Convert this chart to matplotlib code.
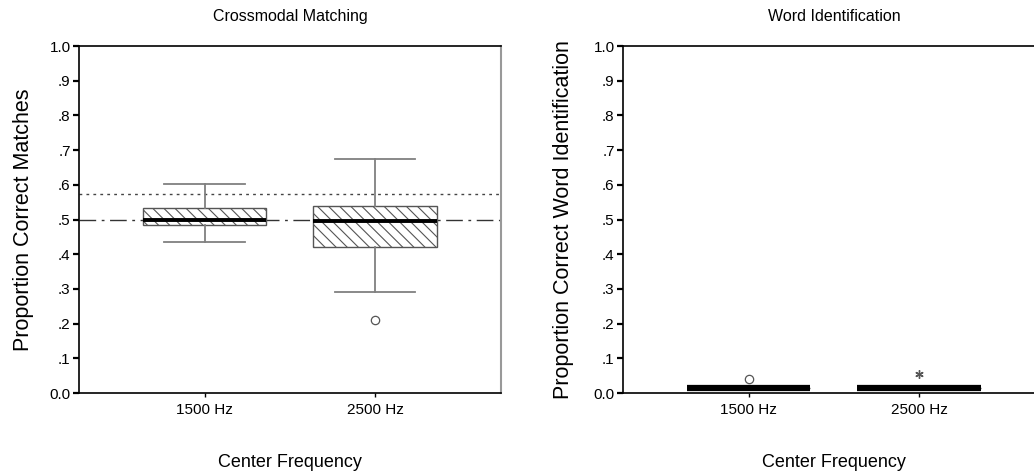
import matplotlib.pyplot as plt
import matplotlib as mpl

mpl.rcParams["font.family"] = ["Liberation Sans", "DejaVu Sans"]
mpl.rcParams["hatch.linewidth"] = 0.8

CATEGORIES = ["1500 Hz", "2500 Hz"]
YTICKS = [0.0, 0.1, 0.2, 0.3, 0.4, 0.5, 0.6, 0.7, 0.8, 0.9, 1.0]
YTICK_LABELS = ["0.0", ".1", ".2", ".3", ".4", ".5", ".6", ".7", ".8", ".9", "1.0"]

# crossmodal matching: five-number summaries per centre frequency
match_whislo = [0.435, 0.290]
match_q1     = [0.483, 0.421]
match_med    = [0.500, 0.495]
match_q3     = [0.533, 0.540]
match_whishi = [0.601, 0.675]
match_outliers = [[], [0.209]]
match_outlier_marks = ["o", "o"]
chance_level = 0.50
criterion_level = 0.574

# word identification: everything collapsed near floor
word_whislo = [0.015, 0.015]
word_q1     = [0.015, 0.015]
word_med    = [0.015, 0.015]
word_q3     = [0.015, 0.015]
word_whishi = [0.015, 0.015]
word_outliers = [[0.040], [0.054]]
word_outlier_marks = ["o", "*"]


def stats_for(lo, q1, med, q3, hi):
    return [dict(whislo=a, q1=b, med=c, q3=d, whishi=e, label=lab)
            for a, b, c, d, e, lab in zip(lo, q1, med, q3, hi, CATEGORIES)]


def style_axes(ax, title, ylabel, ypad):
    ax.set_ylim(0, 1.0)
    ax.set_xlim(0.265, 2.735)
    ax.set_yticks(YTICKS)
    ax.set_yticklabels(YTICK_LABELS)
    ax.set_xticks([1, 2])
    ax.set_xticklabels(CATEGORIES)
    ax.tick_params(axis="y", direction="out", length=4, width=1.6, labelsize=11, pad=2)
    ax.tick_params(axis="x", direction="out", length=3, width=1, labelsize=11, pad=4)
    for s in ["left", "top", "bottom"]:
        ax.spines[s].set_color("black")
        ax.spines[s].set_linewidth(1.2)
    ax.spines["right"].set_color("#999999")
    ax.spines["right"].set_linewidth(1.5)
    ax.set_title(title, fontsize=11.5, pad=18)
    ax.set_xlabel("Center Frequency", fontsize=13, labelpad=27)
    ax.set_ylabel(ylabel, fontsize=15.5, labelpad=ypad)


def draw_boxes(ax, stats, med_lw):
    ax.bxp(stats, positions=[1, 2], widths=0.725, capwidths=0.47,
           showfliers=False, patch_artist=True, manage_ticks=False,
           boxprops=dict(facecolor="white", edgecolor="#555555",
                         linewidth=1, hatch="\\\\\\"),
           whiskerprops=dict(color="#808080", linewidth=1.3),
           capprops=dict(color="#808080", linewidth=1.3),
           medianprops=dict(color="black", linewidth=med_lw,
                            solid_capstyle="butt"))


def draw_outliers(ax, outliers, marks):
    for pos, (vals, m) in enumerate(zip(outliers, marks), start=1):
        if not vals:
            continue
        if m == "o":
            ax.plot([pos] * len(vals), vals, linestyle="none", marker="o",
                    markersize=6, markerfacecolor="none",
                    markeredgecolor="#555555", markeredgewidth=0.9)
        else:
            # extreme value: asterisk
            ax.plot([pos] * len(vals), vals, linestyle="none", marker=(6, 2, 0),
                    markersize=6, markeredgecolor="#555555", markeredgewidth=1)


fig = plt.figure(figsize=(10.34, 4.75), dpi=100)
ax1 = fig.add_axes([0.0764, 0.1726, 0.408, 0.7305])
ax2 = fig.add_axes([0.6025, 0.1726, 0.408, 0.7305])

draw_boxes(ax1, stats_for(match_whislo, match_q1, match_med, match_q3, match_whishi), 2.8)
draw_outliers(ax1, match_outliers, match_outlier_marks)
ax1.axhline(criterion_level, color="#444444", linewidth=1, linestyle=(0, (2, 3)), zorder=1)
ax1.axhline(chance_level, color="#333333", linewidth=1, linestyle=(0, (12, 4, 2, 4)), zorder=1)
style_axes(ax1, "Crossmodal Matching", "Proportion Correct Matches", 11)

draw_boxes(ax2, stats_for(word_whislo, word_q1, word_med, word_q3, word_whishi), 4.5)
draw_outliers(ax2, word_outliers, word_outlier_marks)
style_axes(ax2, "Word Identification", "Proportion Correct Word Identification", 14)

fig.savefig("out.png", dpi=100, facecolor="white")
